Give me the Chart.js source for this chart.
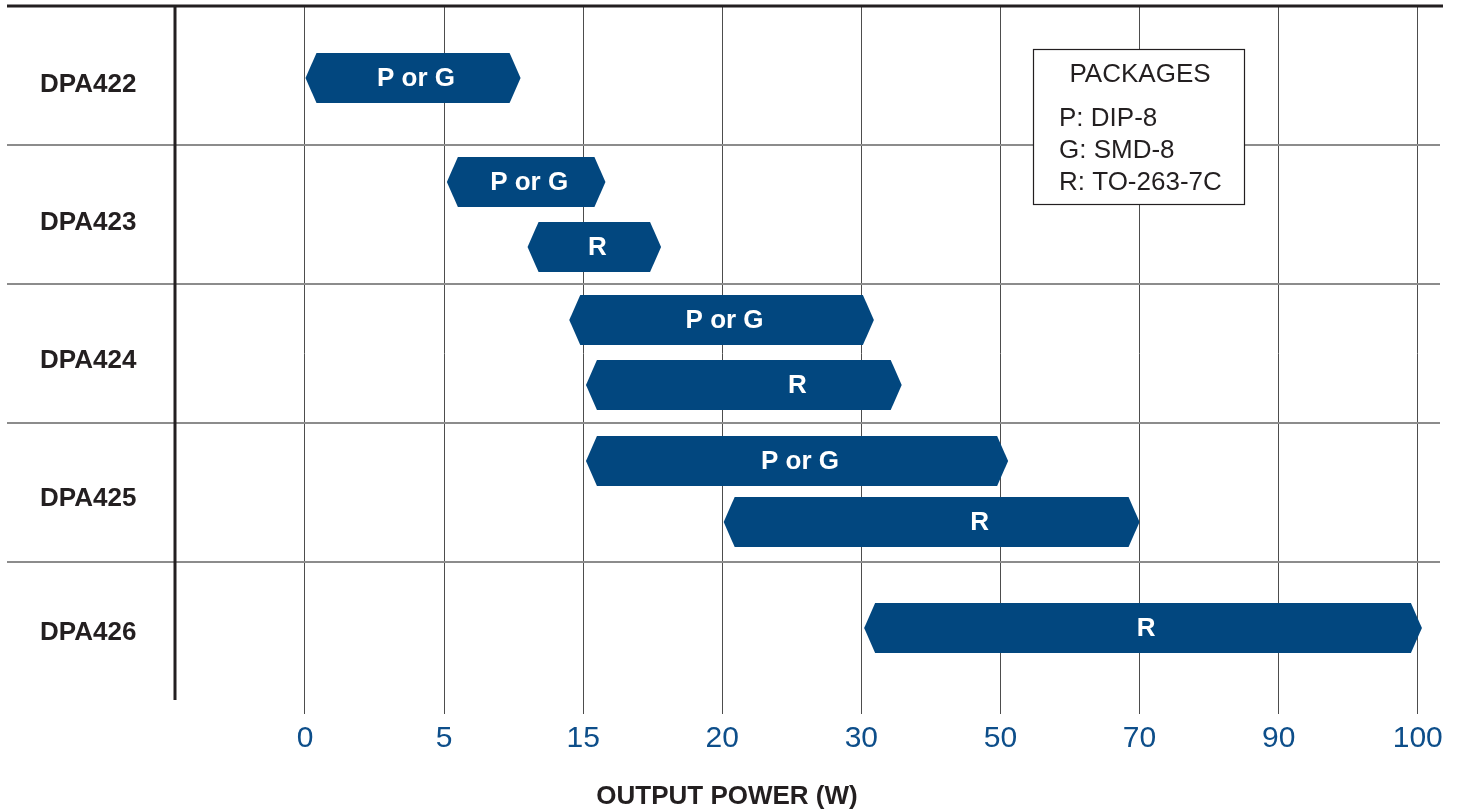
<!DOCTYPE html>
<html><head><meta charset="utf-8">
<script src="https://cdn.jsdelivr.net/npm/chart.js@4.4.1/dist/chart.umd.min.js"></script>
<style>html,body{margin:0;padding:0;background:#fff}#wrap{width:1460px;height:812px}</style>
</head><body><div id="wrap"><canvas id="c" width="1460" height="812"></canvas></div>
<script>
// ---- data ----
const tickValues = [0, 5, 15, 20, 30, 50, 70, 90, 100];
const tickLabels = ['0', '5', '15', '20', '30', '50', '70', '90', '100'];
const rowNames = ['DPA422', 'DPA423', 'DPA424', 'DPA425', 'DPA426'];
const barRow = [0, 1, 1, 2, 2, 3, 3, 4];
const barLabels = ['P or G', 'P or G', 'R', 'P or G', 'R', 'P or G', 'R', 'R'];
const barStart = [0, 5.2, 11, 14, 15.1, 15.1, 20.1, 30.4];
const barEnd = [10.5, 15.8, 17.8, 31.8, 35.8, 51.1, 70, 100.3];
const labelAt = [null, null, null, null, 25.4, null, 47, null];
const legendTitle = 'PACKAGES';
const legendItems = ['P: DIP-8', 'G: SMD-8', 'R: TO-263-7C'];
const axisTitle = 'OUTPUT POWER (W)';

// ---- layout (lane of each bar inside its row, row label positions) ----
const barLane = [0.518, 0.266, 0.734, 0.259, 0.727, 0.273, 0.712, 0.475];
const rowLabelPos = [0.568, 1.561, 2.554, 3.546, 4.510];

const FONT = '"Liberation Sans", Arial, Helvetica, sans-serif';
const BAR_COLOR = '#02477f';
const DARK = '#231f20';

function toIdx(w) {
  let i = 0;
  while (i < tickValues.length - 2 && w > tickValues[i + 1]) i++;
  const a = tickValues[i], b = tickValues[i + 1];
  return i + (w - a) / (b - a);
}

const barData = barStart.map((s, i) => ({ x: [toIdx(s), toIdx(barEnd[i])], y: barRow[i] + barLane[i] }));

const decor = {
  id: 'decor',
  beforeDatasetsDraw(chart) {
    const { ctx, chartArea, scales } = chart;
    ctx.save();
    ctx.strokeStyle = '#8c8c8c';
    ctx.lineWidth = 2;
    for (let r = 1; r < rowNames.length; r++) {
      const y = Math.round(scales.y.getPixelForValue(r));
      ctx.beginPath();
      ctx.moveTo(7, y); ctx.lineTo(chartArea.right, y); ctx.stroke();
    }
    ctx.strokeStyle = DARK;
    ctx.lineWidth = 3;
    ctx.beginPath();
    ctx.moveTo(7, chartArea.top); ctx.lineTo(chartArea.right + 3, chartArea.top); ctx.stroke();
    ctx.beginPath();
    ctx.moveTo(chartArea.left, chartArea.top); ctx.lineTo(chartArea.left, chartArea.bottom - 1); ctx.stroke();
    ctx.restore();
  },
  afterDatasetsDraw(chart) {
    const { ctx, scales } = chart;
    const meta = chart.getDatasetMeta(0);
    ctx.save();
    meta.data.forEach((el, i) => {
      const p = el.getProps(['x', 'y', 'base', 'height'], true);
      const l = Math.min(p.x, p.base), r = Math.max(p.x, p.base);
      const h = p.height / 2, t = 11, y = p.y;
      ctx.fillStyle = BAR_COLOR;
      ctx.beginPath();
      ctx.moveTo(l, y);
      ctx.lineTo(l + t, y - h);
      ctx.lineTo(r - t, y - h);
      ctx.lineTo(r, y);
      ctx.lineTo(r - t, y + h);
      ctx.lineTo(l + t, y + h);
      ctx.closePath();
      ctx.fill();
      const cx = labelAt[i] == null ? (l + r) / 2 + 3 : scales.x.getPixelForValue(toIdx(labelAt[i]));
      ctx.fillStyle = '#ffffff';
      ctx.font = 'bold 26px ' + FONT;
      ctx.textAlign = 'center';
      ctx.textBaseline = 'middle';
      ctx.fillText(barLabels[i], cx, y + 1);
    });
    const bx = 1033.5, by = 49.5, bw = 211, bh = 155;
    ctx.fillStyle = '#ffffff';
    ctx.fillRect(bx, by, bw, bh);
    ctx.strokeStyle = DARK;
    ctx.lineWidth = 1.2;
    ctx.strokeRect(bx, by, bw, bh);
    ctx.fillStyle = DARK;
    ctx.font = '26px ' + FONT;
    ctx.textBaseline = 'middle';
    ctx.textAlign = 'center';
    ctx.fillText(legendTitle, bx + bw / 2 + 1, 75);
    ctx.textAlign = 'left';
    legendItems.forEach((s, k) => ctx.fillText(s, 1059, 119 + k * 32));
    ctx.font = 'bold 26px ' + FONT;
    ctx.textAlign = 'center';
    ctx.fillText(axisTitle, 727, 797);
    ctx.restore();
  }
};

new Chart(document.getElementById('c'), {
  type: 'bar',
  data: { datasets: [{ data: barData, backgroundColor: 'rgba(0,0,0,0)', borderWidth: 0, barThickness: 50 }] },
  options: {
    indexAxis: 'y',
    responsive: false,
    animation: false,
    events: [],
    layout: { padding: { left: 40, top: 6, right: 20, bottom: 0 } },
    plugins: { legend: { display: false }, tooltip: { enabled: false } },
    scales: {
      x: {
        type: 'linear', min: -0.9346, max: 8.16, offset: false,
        afterBuildTicks: s => { s.ticks = tickValues.map((_, i) => ({ value: i })); },
        afterFit: s => { s.height = 111; s.paddingLeft = 0; s.paddingRight = 0; },
        grid: { color: '#4d4d4d', lineWidth: 1, tickLength: 13, drawOnChartArea: true, offset: false },
        border: { display: false },
        ticks: { callback: v => tickLabels[Math.round(v)], color: '#0d4e8a', font: { family: FONT, size: 30 }, padding: 7, maxRotation: 0, autoSkip: false }
      },
      y: {
        type: 'linear', reverse: true, min: 0, max: 5, offset: false,
        afterBuildTicks: s => { s.ticks = rowLabelPos.map(v => ({ value: v })); },
        afterFit: s => { s.width = 135; s.paddingTop = 0; s.paddingBottom = 0; },
        grid: { display: false, offset: false },
        border: { display: false },
        ticks: { callback: (v, i) => rowNames[i], crossAlign: 'far', color: DARK, font: { family: FONT, size: 26, weight: 'bold' }, autoSkip: false }
      }
    }
  },
  plugins: [decor]
});
</script>
</body></html>
